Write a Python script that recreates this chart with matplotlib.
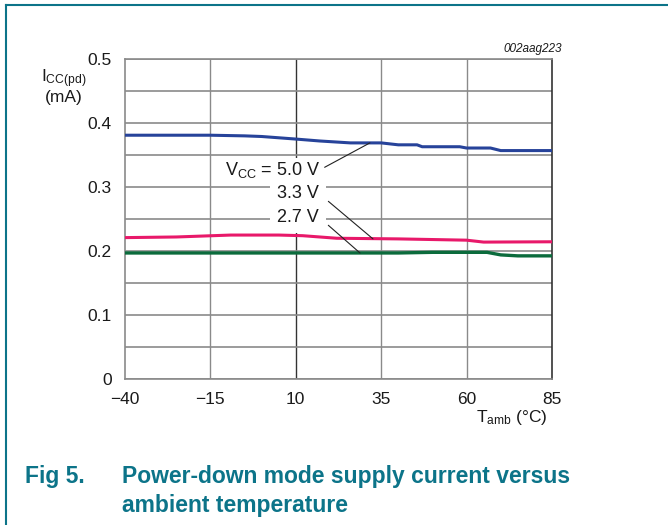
import matplotlib
matplotlib.use("Agg")
import matplotlib.pyplot as plt
from matplotlib.lines import Line2D
from matplotlib.ticker import MultipleLocator

plt.rcParams['font.family'] = ['Liberation Sans', 'DejaVu Sans']
plt.rcParams['mathtext.fontset'] = 'custom'
plt.rcParams['mathtext.rm'] = 'Liberation Sans'
plt.rcParams['mathtext.it'] = 'Liberation Sans:italic'

# data
temp_50 = [-40, -15, -5, 0, 10, 17, 26, 35, 40, 45.5, 47, 58, 60, 67, 70, 85]
icc_50 = [0.381, 0.381, 0.380, 0.379, 0.375, 0.372, 0.369, 0.369, 0.366,
          0.366, 0.363, 0.363, 0.361, 0.361, 0.357, 0.357]
temp_33 = [-40, -25, -9, 5, 12, 22, 40, 60, 65, 85]
icc_33 = [0.221, 0.222, 0.225, 0.225, 0.224, 0.220, 0.219, 0.217, 0.214, 0.2145]
temp_27 = [-40, 40, 50, 66, 70, 75, 85]
icc_27 = [0.197, 0.197, 0.198, 0.198, 0.194, 0.1925, 0.1925]

x_ticks = [-40, -15, 10, 35, 60, 85]
y_ticks = [0, 0.1, 0.2, 0.3, 0.4, 0.5]

TEAL = '#0c7489'
GRID = '#8a8a8a'
INK = '#1a1a1a'
FS = 12.5

fig = plt.figure(figsize=(6.68, 5.25), dpi=100)
ax = fig.add_axes([0.1871, 0.278, 0.6392, 0.6095])

ax.plot(temp_50, icc_50, color='#27439a', lw=2.2, zorder=3)
ax.plot(temp_33, icc_33, color='#e8196a', lw=2.2, zorder=3)
ax.plot(temp_27, icc_27, color='#0b6b3c', lw=2.4, zorder=3)

ax.set_xlim(-40, 85)
ax.set_ylim(0, 0.5)
ax.set_xticks(x_ticks)
ax.set_xticklabels([str(t).replace('-', '\u2212') for t in x_ticks])
ax.set_yticks(y_ticks)
ax.set_yticklabels(['0'] + ['%.1f' % v for v in y_ticks[1:]])
ax.yaxis.set_minor_locator(MultipleLocator(0.05))
ax.tick_params(length=0, which='both', labelsize=FS, colors=INK)
ax.tick_params(axis='y', pad=9.5)
ax.tick_params(axis='x', pad=9)

ax.grid(True, which='both', axis='y', color=GRID, lw=1.2, zorder=1)
for t in x_ticks[1:-1]:
    ax.axvline(t, color='#333333' if t == 10 else GRID, lw=1.0, zorder=1)
for side in ['left', 'bottom', 'top']:
    ax.spines[side].set_color(GRID)
    ax.spines[side].set_linewidth(1.2)
ax.spines['right'].set_color('#333333')
ax.spines['right'].set_linewidth(1.2)

line = dict(arrowstyle='-', color='#222222', lw=0.8, shrinkA=2, shrinkB=0,
            relpos=(1, 0.5))
ax.annotate('V$_{\\mathrm{CC}}$ = 5.0 V', xy=(31.7, 0.369), xytext=(17.1, 0.327),
            ha='right', va='center', fontsize=13, color=INK,
            bbox=dict(boxstyle='square,pad=0.12', fc='white', ec='none'),
            arrowprops=line, zorder=4)
ax.annotate('3.3 V', xy=(32.6, 0.219), xytext=(16.8, 0.290),
            ha='right', va='center', fontsize=13, color=INK,
            bbox=dict(boxstyle='square,pad=0.4', fc='white', ec='none'),
            arrowprops=line, zorder=4)
ax.annotate('2.7 V', xy=(28.8, 0.197), xytext=(16.8, 0.253),
            ha='right', va='center', fontsize=13, color=INK,
            bbox=dict(boxstyle='square,pad=0.4', fc='white', ec='none'),
            arrowprops=line, zorder=4)

fig.text(562 / 668, 1 - 52 / 525, '002aag223', ha='right', va='baseline',
         fontsize=8.5, style='italic', color=INK)

fig.text(64 / 668, 1 - 82 / 525, 'I$_{\\mathrm{CC(pd)}}$', ha='center',
         va='baseline', fontsize=FS, color=INK)
fig.text(64 / 668, 1 - 102 / 525, '(mA)', ha='center', va='baseline',
         fontsize=FS, color=INK)
fig.text(548 / 668, 1 - 422 / 525, 'T$_{\\mathrm{amb}}$ (\u00b0C)', ha='right',
         va='baseline', fontsize=FS, color=INK)

fig.text(25 / 668, 1 - 483 / 525, 'Fig 5.', ha='left', va='baseline',
         fontsize=16.5, fontweight='bold', color=TEAL)
fig.text(122 / 668, 1 - 483 / 525, 'Power-down mode supply current versus',
         ha='left', va='baseline', fontsize=16.5, fontweight='bold', color=TEAL)
fig.text(122 / 668, 1 - 512 / 525, 'ambient temperature',
         ha='left', va='baseline', fontsize=16.5, fontweight='bold', color=TEAL)

# page frame (top rule and left rule)
fig.add_artist(Line2D([6 / 668, 1], [1 - 5 / 525, 1 - 5 / 525], color=TEAL, lw=1.5))
fig.add_artist(Line2D([6 / 668, 6 / 668], [0, 1 - 5 / 525], color=TEAL, lw=1.5))

fig.savefig('out.png', dpi=100)
